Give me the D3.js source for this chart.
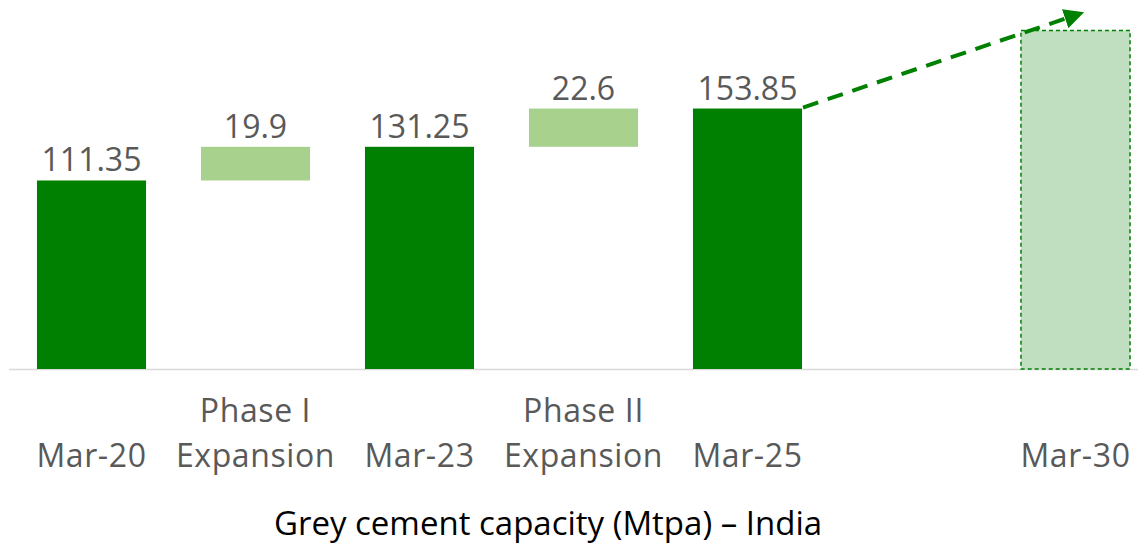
<!DOCTYPE html>
<html>
<head>
<meta charset="utf-8">
<script src="https://cdn.jsdelivr.net/npm/d3@7"></script>
<style>
  html, body { margin: 0; padding: 0; background: #fff; }
  svg { display: block; font-family: "Open Sans", Lato, sans-serif; }
</style>
</head>
<body>
<div id="app"></div>
<script>
// data
const categories = ["Mar-20", "Phase I\nExpansion", "Mar-23", "Phase II\nExpansion", "Mar-25", "", "Mar-30"];
const kinds = ["total", "step", "total", "step", "total", "none", "target"];
const values = [111.35, 19.9, 131.25, 22.6, 153.85, 0, 200];
const labels = ["111.35", "19.9", "131.25", "22.6", "153.85", "", ""];
const title = "Grey cement capacity (Mtpa) \u2013 India";

const W = 1138, H = 553;
const DARK = "#008000", LIGHT = "#a9d18e", TARGET = "#c0dfc0", GREY = "#595959";

const svg = d3.select("#app").append("svg")
  .attr("width", W).attr("height", H);

// waterfall bases
let running = 0;
const bars = categories.map((c, i) => {
  let y0 = 0, y1 = values[i];
  if (kinds[i] === "step") { y0 = running; y1 = running + values[i]; }
  if (kinds[i] !== "none") running = kinds[i] === "step" ? y1 : values[i];
  return { key: i, cat: c, kind: kinds[i], y0, y1, label: labels[i] };
});

const x = d3.scaleBand()
  .domain(d3.range(categories.length))
  .range([9.5, 1157.5])
  .paddingInner(0.335)
  .paddingOuter(0.1675);

const y = d3.scaleLinear().domain([0, 200]).range([369, 30.4]);

// baseline
svg.append("line")
  .attr("x1", 9).attr("x2", W)
  .attr("y1", y(0) + 0.5).attr("y2", y(0) + 0.5)
  .attr("stroke", "#d9d9d9").attr("stroke-width", 1.5);

// bars
svg.selectAll("rect.bar")
  .data(bars.filter(d => d.kind !== "none"))
  .join("rect")
  .attr("class", "bar")
  .attr("x", d => x(d.key))
  .attr("width", x.bandwidth())
  .attr("y", d => y(d.y1))
  .attr("height", d => y(d.y0) - y(d.y1))
  .attr("fill", d => d.kind === "total" ? DARK : d.kind === "step" ? LIGHT : TARGET)
  .attr("stroke", d => d.kind === "target" ? DARK : "none")
  .attr("stroke-width", 1.5)
  .attr("stroke-dasharray", d => d.kind === "target" ? "4,3" : null);

// value labels
svg.selectAll("text.val")
  .data(bars.filter(d => d.label))
  .join("text")
  .attr("class", "val")
  .attr("x", d => x(d.key) + x.bandwidth() / 2)
  .attr("y", d => y(d.y1) - 9)
  .attr("text-anchor", "middle")
  .attr("fill", GREY)
  .attr("font-size", 32)
  .text(d => d.label);

// category labels
const cat = svg.selectAll("text.cat")
  .data(bars.filter(d => d.cat))
  .join("text")
  .attr("class", "cat")
  .attr("text-anchor", "middle")
  .attr("fill", GREY)
  .attr("font-size", 32)
  .attr("letter-spacing", 0.6);
cat.each(function (d) {
  const lines = d.cat.split("\n");
  const t = d3.select(this);
  lines.forEach((l, j) => {
    t.append("tspan")
      .attr("x", x(d.key) + x.bandwidth() / 2)
      .attr("y", 467 - (lines.length - 1 - j) * 45)
      .text(l);
  });
});

// dashed arrow Mar-25 -> Mar-30
const defs = svg.append("defs");
defs.append("marker")
  .attr("id", "arrow")
  .attr("viewBox", "0 0 10 10")
  .attr("refX", 2).attr("refY", 5)
  .attr("markerWidth", 5).attr("markerHeight", 5)
  .attr("orient", "auto")
  .attr("markerUnits", "strokeWidth")
  .append("path").attr("d", "M0,0 L10,5 L0,10 Z").attr("fill", DARK);

svg.append("line")
  .attr("x1", x(4) + x.bandwidth() + 1)
  .attr("y1", y(bars[4].y1) - 1)
  .attr("x2", x(6) + x.bandwidth() * 0.44)
  .attr("y2", y(bars[6].y1) - 13)
  .attr("stroke", DARK)
  .attr("stroke-width", 4)
  .attr("stroke-dasharray", "16,10")
  .attr("marker-end", "url(#arrow)");

// title
svg.append("text")
  .attr("x", 548).attr("y", 535)
  .attr("text-anchor", "middle")
  .attr("fill", "#000")
  .attr("font-size", 33)
  .text(title);
</script>
</body>
</html>
